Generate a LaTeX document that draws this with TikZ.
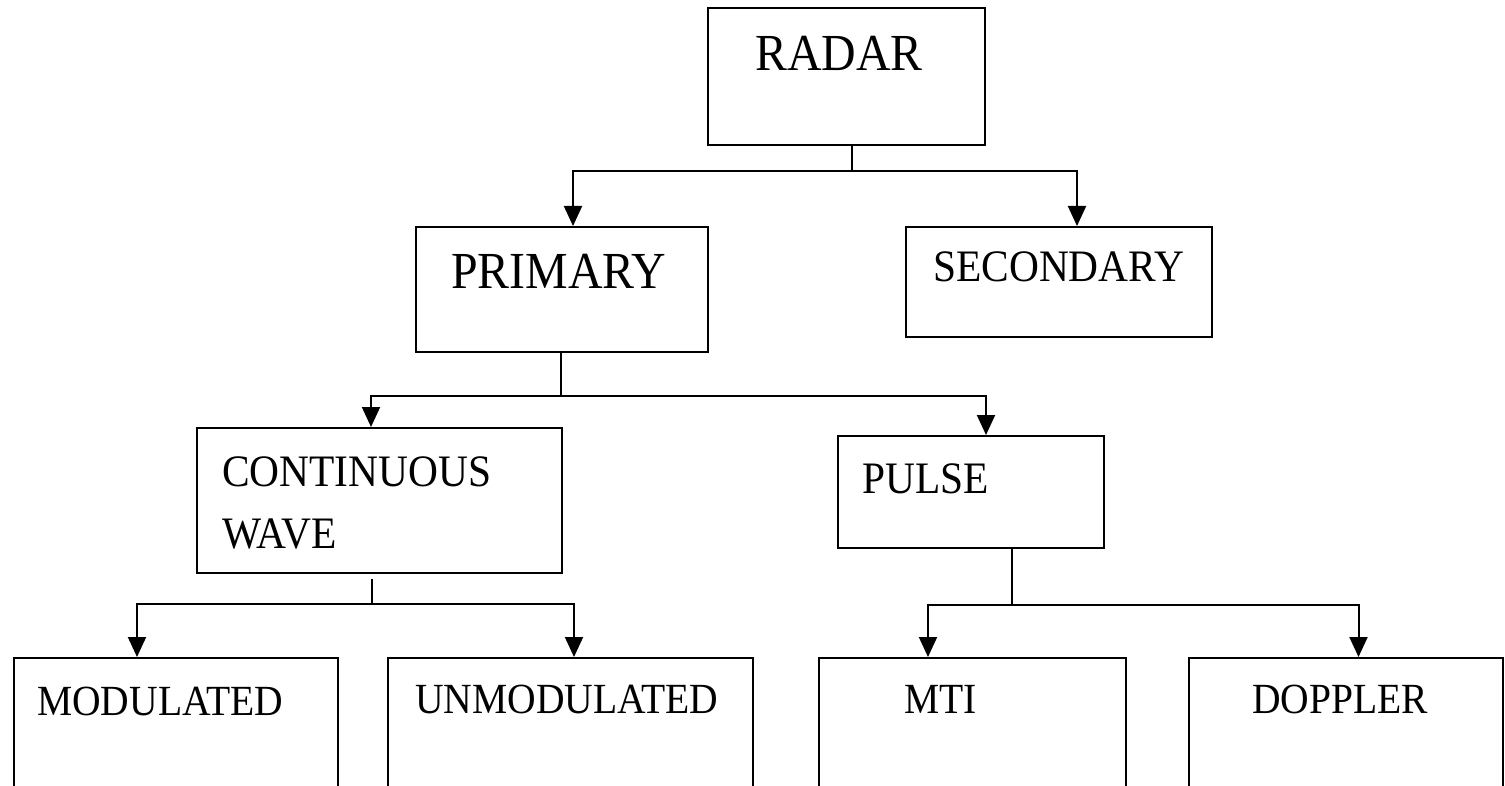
\documentclass[tikz,border=0pt]{standalone}
\usepackage{fontspec}
\setmainfont{Liberation Serif}[FakeStretch=0.92]
\usetikzlibrary{arrows.meta}

\tikzset{
  box/.style={draw, line width=2pt, inner sep=0pt, anchor=north west},
  arr/.style={line width=2pt, -{Triangle[width=18pt,length=20pt]}},
  stub/.style={line width=2pt},
  bigtxt/.style={font=\fontsize{52pt}{60pt}\selectfont, inner sep=0pt, anchor=base west},
  midtxt/.style={font=\fontsize{45pt}{62pt}\selectfont, inner sep=0pt, anchor=base west},
  lowtxt/.style={font=\fontsize{43pt}{50pt}\selectfont, inner sep=0pt, anchor=base west}
}

\begin{document}
\begin{tikzpicture}[x=1pt,y=-1pt]
  \useasboundingbox (0,0) rectangle (1505,786);
  \clip (0,0) rectangle (1505,786);

  % Boxes
  \node[box, minimum width=277pt, minimum height=137pt] (radar) at (707,7) {};
  \node[box, minimum width=292pt, minimum height=125pt] (primary) at (415,226) {};
  \node[box, minimum width=306pt, minimum height=110pt] (secondary) at (905,226) {};
  \node[box, minimum width=365pt, minimum height=145pt] (cw) at (196,427) {};
  \node[box, minimum width=266pt, minimum height=112pt] (pulse) at (837,435) {};
  \node[box, minimum width=324pt, minimum height=160pt] (mod) at (13,657) {};
  \node[box, minimum width=365pt, minimum height=160pt] (unmod) at (387,657) {};
  \node[box, minimum width=307pt, minimum height=160pt] (mti) at (818,657) {};
  \node[box, minimum width=314pt, minimum height=160pt] (doppler) at (1188,657) {};

  % Labels
  \node[bigtxt] (radartxt) at (755,71) {RADAR};
  \node[bigtxt] (primarytxt) at (451,289) {PRIMARY};
  \node[midtxt] (secondarytxt) at (933,282) {SECONDARY};
  \node[midtxt, align=left] (cwtxt) at (222,548) {CONTINUOUS\\WAVE};
  \node[midtxt] (pulsetxt) at (862,493) {PULSE};
  \node[lowtxt] (modtxt) at (37,715) {MODULATED};
  \node[lowtxt] (unmodtxt) at (415,713) {UNMODULATED};
  \node[lowtxt] (mtitxt) at (904,713) {MTI};
  \node[lowtxt] (dopplertxt) at (1252,713) {DOPPLER};

  % Junctions
  \coordinate (rj) at (852,171);
  \coordinate (pj) at (561,396);
  \coordinate (cj) at (372,604);
  \coordinate (uj) at (1012,605);

  % Connectors
  \draw[stub] (radar.south -| rj) -- (rj);
  \draw[arr] (rj) -| ([xshift=11pt]primary.north);
  \draw[arr] (rj) -| ([xshift=18pt]secondary.north);

  \draw[stub] (primary.south -| pj) -- (pj);
  \draw[arr] (pj) -| ([xshift=-8.5pt]cw.north);
  \draw[arr] (pj) -| ([xshift=15pt]pulse.north);

  \draw[stub] ([yshift=-5pt]cw.south -| cj) -- (cj);
  \draw[arr] (cj) -| ([xshift=-39pt]mod.north);
  \draw[arr] (cj) -| ([xshift=3.5pt]unmod.north);

  \draw[stub] (pulse.south -| uj) -- (uj);
  \draw[arr] (uj) -| ([xshift=-44.5pt]mti.north);
  \draw[arr] (uj) -| ([xshift=12.5pt]doppler.north);
\end{tikzpicture}
\end{document}
